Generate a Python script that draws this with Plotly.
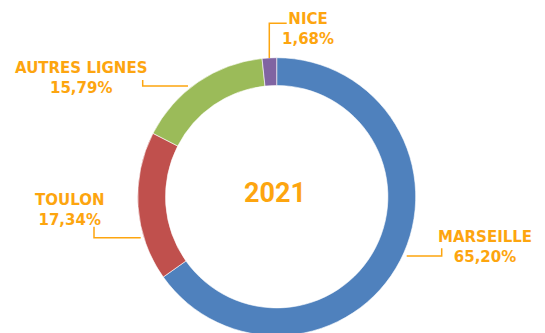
import plotly.graph_objects as go

# Share of traffic by line, 2021
lines = ["MARSEILLE", "TOULON", "AUTRES LIGNES", "NICE"]
shares = [65.20, 17.34, 15.79, 1.68]
colors = ["#4F81BD", "#C0504D", "#9BBB59", "#8064A2"]
year_label = "2021"

W, H = 545, 340
ORANGE = "#FDA50F"


def px(x):
    return x / W


def py(y):
    return 1 - y / H


fig = go.Figure(
    go.Pie(
        labels=lines,
        values=shares,
        sort=False,
        direction="clockwise",
        rotation=0,
        hole=0.8,
        marker=dict(colors=colors, line=dict(color="white", width=0.6)),
        textinfo="none",
        hoverinfo="label+percent",
        domain=dict(x=[px(137.7), px(415.7)], y=[py(335.7), py(57.7)]),
        showlegend=False,
    )
)

# label placement (pixel centres) and elbow leader paths
label_pos = {
    "MARSEILLE": (485, 246.9),
    "TOULON": (70, 210.3),
    "AUTRES LIGNES": (81, 77.9),
    "NICE": (307.5, 28.9),
}
leaders = {
    "MARSEILLE": [(406.7, 256), (441.7, 256), (441.7, 248.3)],
    "TOULON": [(140.7, 237.7), (94, 237.7), (94, 226.7)],
    "AUTRES LIGNES": [(188, 86), (142.7, 86), (142.7, 80)],
    "NICE": [(269.3, 58), (269.3, 23.3), (286.7, 23.3)],
}

for name, val in zip(lines, shares):
    x, y = label_pos[name]
    pct = f"{val:.2f}".replace(".", ",") + "%"
    fig.add_annotation(
        x=px(x), y=py(y), xref="paper", yref="paper",
        text=f"{name}<br>{pct}", showarrow=False,
        xanchor="center", yanchor="middle", align="center",
        font=dict(family="DejaVu Sans", size=15, color=ORANGE, weight="bold"),
    )
    pts = leaders[name]
    path = "M " + " L ".join(f"{px(a):.5f},{py(b):.5f}" for a, b in pts)
    fig.add_shape(
        type="path", path=path, xref="paper", yref="paper",
        line=dict(color=ORANGE, width=1.5),
    )

fig.add_annotation(
    x=px(275), y=py(193.3), xref="paper", yref="paper",
    text=year_label, showarrow=False, xanchor="center", yanchor="middle",
    font=dict(family="Roboto", size=27, color=ORANGE, weight="bold"),
)

fig.update_layout(
    width=W, height=H,
    margin=dict(l=0, r=0, t=0, b=0),
    paper_bgcolor="white", plot_bgcolor="white",
)

fig.write_html(
    "out.html",
    config={"displayModeBar": False},
    post_script="document.documentElement.style.overflow='hidden';document.body.style.overflow='hidden';",
)
